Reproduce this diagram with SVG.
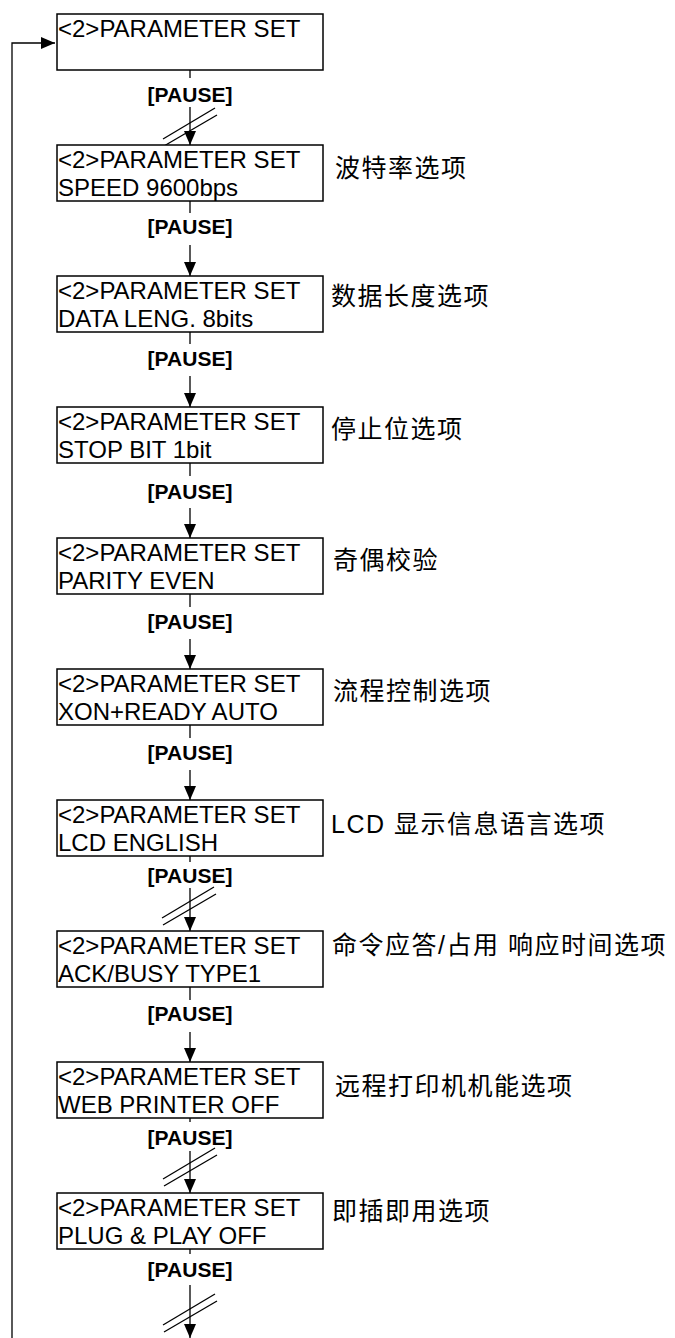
<svg xmlns="http://www.w3.org/2000/svg" xmlns:xlink="http://www.w3.org/1999/xlink" width="675" height="1338" viewBox="0 0 675 1338">
<style>
.box{fill:#fff;stroke:#000;stroke-width:1.5}
.bt{font-family:"Liberation Sans",Arial,sans-serif;font-size:24px;fill:#000}
.pause{font-family:"Liberation Sans",Arial,sans-serif;font-size:21px;font-weight:bold;fill:#000;text-anchor:middle}
.lbl{font-family:"Liberation Sans","Noto Sans CJK SC",sans-serif;font-size:25px;letter-spacing:1.5px;fill:#000}
.ln{stroke:#000;stroke-width:1.3;fill:none}
.arr{stroke:#000;stroke-width:1.3;fill:none;marker-end:url(#ah)}
</style>
<defs>
<marker id="ah" markerUnits="userSpaceOnUse" markerWidth="14" markerHeight="14" viewBox="0 0 14 12" refX="14" refY="6" orient="auto">
<path d="M0,0 L14,6 L0,12 Z" fill="#000"/>
</marker>
<g id="slash">
<line x1="-27" y1="13" x2="25" y2="-18" stroke="#000" stroke-width="1.3"/>
<line x1="-26" y1="20" x2="27" y2="-11" stroke="#000" stroke-width="1.3"/>
</g>
</defs>
<rect width="675" height="1338" fill="#fff"/>

<g id="connectors">
<path class="arr" d="M12,1338 V43 H55"/>
<line class="ln" x1="190" y1="70" x2="190" y2="78"/>
<text class="pause" x="190" y="102">[PAUSE]</text>
<line class="arr" x1="190" y1="107" x2="190" y2="145"/>
<use xlink:href="#slash" x="190" y="126"/>
<line class="ln" x1="190" y1="201" x2="190" y2="213"/>
<text class="pause" x="190" y="234">[PAUSE]</text>
<line class="arr" x1="190" y1="245" x2="190" y2="276"/>
<line class="ln" x1="190" y1="332" x2="190" y2="344"/>
<text class="pause" x="190" y="366">[PAUSE]</text>
<line class="arr" x1="190" y1="376" x2="190" y2="407"/>
<line class="ln" x1="190" y1="463" x2="190" y2="476"/>
<text class="pause" x="190" y="499">[PAUSE]</text>
<line class="arr" x1="190" y1="508" x2="190" y2="538"/>
<line class="ln" x1="190" y1="594" x2="190" y2="607"/>
<text class="pause" x="190" y="629">[PAUSE]</text>
<line class="arr" x1="190" y1="639" x2="190" y2="669"/>
<line class="ln" x1="190" y1="725" x2="190" y2="738"/>
<text class="pause" x="190" y="760">[PAUSE]</text>
<line class="arr" x1="190" y1="770" x2="190" y2="800"/>
<line class="ln" x1="190" y1="856" x2="190" y2="862"/>
<text class="pause" x="190" y="883">[PAUSE]</text>
<line class="arr" x1="190" y1="888" x2="190" y2="931"/>
<use xlink:href="#slash" x="189" y="905"/>
<line class="ln" x1="190" y1="987" x2="190" y2="1000"/>
<text class="pause" x="190" y="1021">[PAUSE]</text>
<line class="arr" x1="190" y1="1032" x2="190" y2="1062"/>
<line class="ln" x1="190" y1="1118" x2="190" y2="1122"/>
<text class="pause" x="190" y="1145">[PAUSE]</text>
<line class="arr" x1="190" y1="1151" x2="190" y2="1193"/>
<use xlink:href="#slash" x="190" y="1166"/>
<line class="ln" x1="190" y1="1249" x2="190" y2="1254"/>
<text class="pause" x="190" y="1277">[PAUSE]</text>
<line class="arr" x1="190" y1="1285" x2="190" y2="1338"/>
<use xlink:href="#slash" x="190" y="1312"/>
</g>

<g id="n1"><rect class="box" x="57" y="14" width="266" height="56"/><text class="bt" x="58" y="37">&lt;2&gt;PARAMETER SET</text></g>
<g id="n2"><rect class="box" x="57" y="145" width="266" height="56"/><text class="bt" x="58" y="168">&lt;2&gt;PARAMETER SET</text><text class="bt" x="58" y="196">SPEED 9600bps</text><text class="lbl" x="335" y="177">波特率选项</text></g>
<g id="n3"><rect class="box" x="57" y="276" width="266" height="56"/><text class="bt" x="58" y="299">&lt;2&gt;PARAMETER SET</text><text class="bt" x="58" y="327">DATA LENG. 8bits</text><text class="lbl" x="331" y="305">数据长度选项</text></g>
<g id="n4"><rect class="box" x="57" y="407" width="266" height="56"/><text class="bt" x="58" y="430">&lt;2&gt;PARAMETER SET</text><text class="bt" x="58" y="458">STOP BIT 1bit</text><text class="lbl" x="331" y="438">停止位选项</text></g>
<g id="n5"><rect class="box" x="57" y="538" width="266" height="56"/><text class="bt" x="58" y="561">&lt;2&gt;PARAMETER SET</text><text class="bt" x="58" y="589">PARITY EVEN</text><text class="lbl" x="333" y="569">奇偶校验</text></g>
<g id="n6"><rect class="box" x="57" y="669" width="266" height="56"/><text class="bt" x="58" y="692">&lt;2&gt;PARAMETER SET</text><text class="bt" x="58" y="720">XON+READY AUTO</text><text class="lbl" x="333" y="700">流程控制选项</text></g>
<g id="n7"><rect class="box" x="57" y="800" width="266" height="56"/><text class="bt" x="58" y="823">&lt;2&gt;PARAMETER SET</text><text class="bt" x="58" y="851">LCD ENGLISH</text><text class="lbl" x="331" y="833">LCD 显示信息语言选项</text></g>
<g id="n8"><rect class="box" x="57" y="931" width="266" height="56"/><text class="bt" x="58" y="954">&lt;2&gt;PARAMETER SET</text><text class="bt" x="58" y="982">ACK/BUSY TYPE1</text><text class="lbl" x="332" y="954">命令应答/占用 响应时间选项</text></g>
<g id="n9"><rect class="box" x="57" y="1062" width="266" height="56"/><text class="bt" x="58" y="1085">&lt;2&gt;PARAMETER SET</text><text class="bt" x="58" y="1113">WEB PRINTER OFF</text><text class="lbl" x="335" y="1095">远程打印机机能选项</text></g>
<g id="n10"><rect class="box" x="57" y="1193" width="266" height="56"/><text class="bt" x="58" y="1216">&lt;2&gt;PARAMETER SET</text><text class="bt" x="58" y="1244">PLUG &amp; PLAY OFF</text><text class="lbl" x="332" y="1220">即插即用选项</text></g>
</svg>
